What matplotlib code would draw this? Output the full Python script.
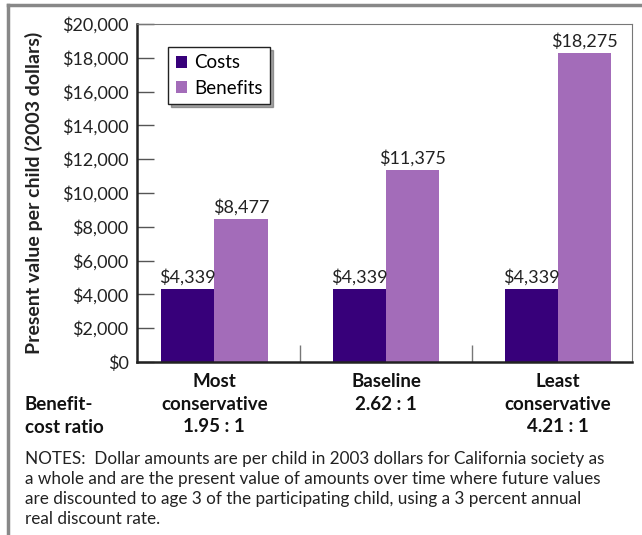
import matplotlib.pyplot as plt
import numpy as np
from matplotlib.lines import Line2D

plt.rcParams['font.family'] = ['Lato', 'DejaVu Sans']

groups = ['Most\nconservative\n1.95 : 1', 'Baseline\n2.62 : 1', 'Least\nconservative\n4.21 : 1']
costs = [4339, 4339, 4339]
benefits = [8477, 11375, 18275]
series = ['Costs', 'Benefits']
yticks = np.arange(0, 20001, 2000)

c_cost = '#37007a'
c_ben = '#a36cb9'

fig = plt.figure(figsize=(6.42, 5.35), dpi=100)
ax = fig.add_axes([0.2134, 0.3234, 0.771, 0.6318])

x = np.arange(len(groups))
w = 0.31
b1 = ax.bar(x - w / 2, costs, w, color=c_cost, label=series[0])
b2 = ax.bar(x + w / 2, benefits, w, color=c_ben, label=series[1])

for bars in (b1, b2):
    for r in bars:
        ax.text(r.get_x() + r.get_width() / 2, r.get_height() + 200,
                '${:,}'.format(int(r.get_height())), ha='center', va='bottom',
                fontsize=13, color='#222222')

ax.set_xlim(-0.45, 2.43)
ax.set_ylim(0, 20000)
ax.set_yticks(yticks)
ax.set_yticklabels(['${:,}'.format(v) for v in yticks], fontsize=13, color='#222222')
ax.tick_params(axis='y', direction='in', length=12, width=1, color='#555555', pad=6)
ax.set_xticks([0.5, 1.5])
ax.set_xticklabels([])
ax.tick_params(axis='x', direction='in', length=12, width=1, color='#777777')

for s in ['left', 'bottom']:
    ax.spines[s].set_linewidth(1.8)
    ax.spines[s].set_color('#222222')
for s in ['top', 'right']:
    ax.spines[s].set_linewidth(0.8)
    ax.spines[s].set_color('#777777')

ax.set_ylabel('Present value per child (2003 dollars)', fontsize=14,
              fontweight='bold', color='#222222')
ax.yaxis.set_label_coords(-0.19, 0.5)

leg = ax.legend(loc='upper left', bbox_to_anchor=(0.063, 0.932), fontsize=13.5,
                frameon=True, fancybox=False, shadow=True, handlelength=0.6,
                handleheight=0.6, handletextpad=0.4, borderpad=0.4,
                labelspacing=0.45, edgecolor='#222222', borderaxespad=0)
leg.get_frame().set_linewidth(1.0)

for i, g in enumerate(groups):
    ax.annotate(g, xy=(x[i], 0), xycoords=('data', 'axes fraction'),
                xytext=(0, -8), textcoords='offset points', ha='center', va='top',
                fontsize=13.5, fontweight='bold', color='#111111', linespacing=1.4)

fig.text(25 / 642, 1 - 396 / 535, 'Benefit-\ncost ratio', ha='left', va='top',
         fontsize=13.5, fontweight='bold', color='#111111', linespacing=1.4)

notes = ('NOTES:  Dollar amounts are per child in 2003 dollars for California society as\n'
         'a whole and are the present value of amounts over time where future values\n'
         'are discounted to age 3 of the participating child, using a 3 percent annual\n'
         'real discount rate.')
fig.text(25 / 642, 1 - 451 / 535, notes, ha='left', va='top', fontsize=12.3,
         color='#222222', linespacing=1.3)

fig.add_artist(Line2D([8 / 642, 8 / 642], [0, 1 - 5 / 535], transform=fig.transFigure,
                      color='#888888', lw=2.5))
fig.add_artist(Line2D([8 / 642, 1], [1 - 5 / 535, 1 - 5 / 535], transform=fig.transFigure,
                      color='#888888', lw=2.5))

fig.savefig('out.png', dpi=100)
